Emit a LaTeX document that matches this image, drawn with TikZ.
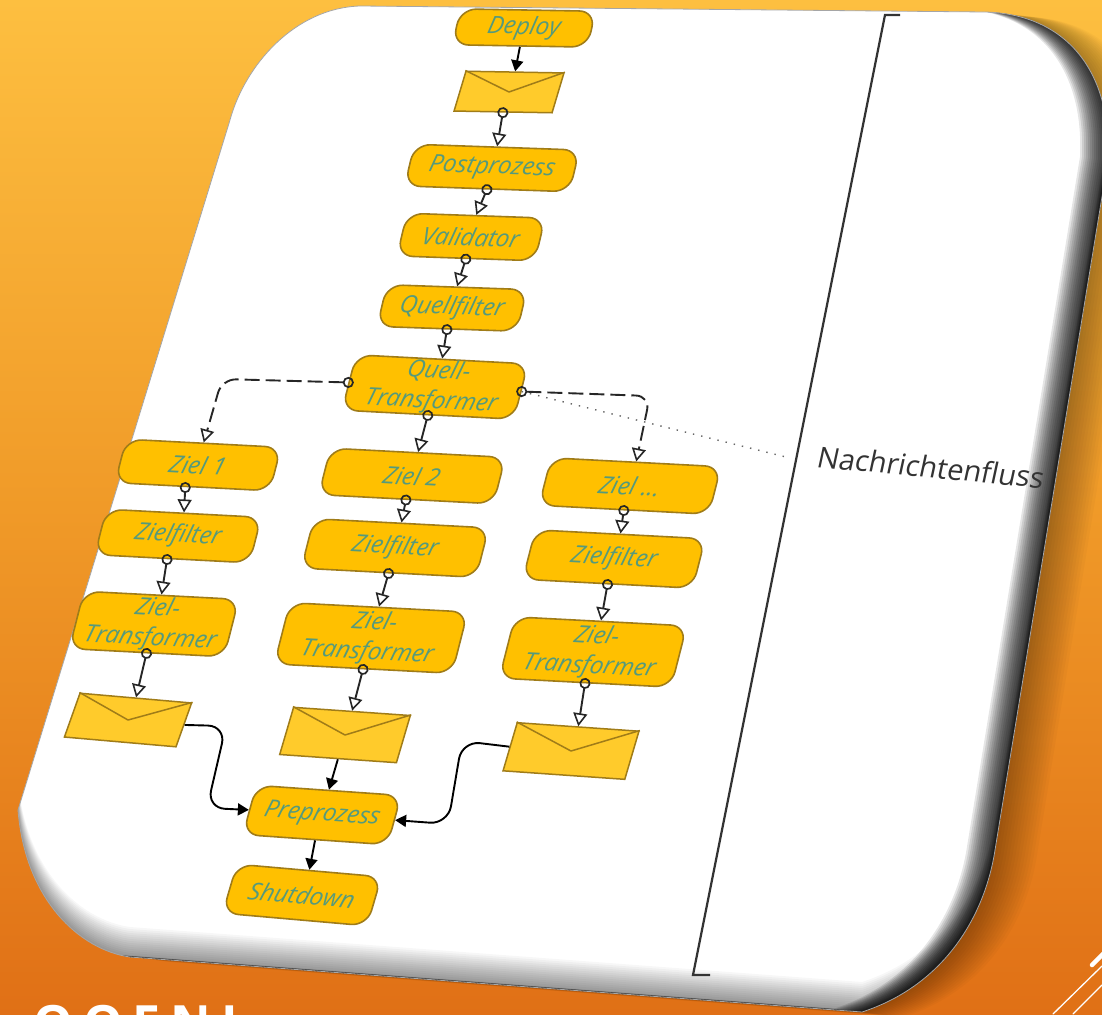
\documentclass[tikz,border=0pt]{standalone}
\usepackage{fontspec}
\setmainfont{Open Sans}
\usetikzlibrary{arrows.meta,calc}
\definecolor{boxfill}{HTML}{FFC000}
\definecolor{boxedge}{HTML}{A07C18}
\definecolor{envfill}{HTML}{FFCB2B}
\definecolor{labelc}{HTML}{559A7C}
\definecolor{bgtop}{HTML}{FDBF40}
\definecolor{bgmid}{HTML}{F09A28}
\definecolor{bgbot}{HTML}{E07016}
\tikzset{
  x=1pt,y=-1pt,
  flowbox/.style={draw=boxedge,line width=1.6pt,fill=boxfill,rounded corners=16pt,inner sep=0pt,align=center,
    text=labelc,font=\fontsize{24}{30}\selectfont\itshape,transform shape},
  envbox/.style={draw=boxedge,line width=1.5pt,fill=envfill,inner sep=0pt,transform shape},
  ctrl/.style={draw=black!85,line width=1.9pt,shorten <=-5.5pt,
    {Circle[open,fill=none,length=11pt,width=11pt,line width=1.7pt]}-{Triangle[open,fill=white,length=13pt,width=14pt,line width=1.6pt]}},
  ctrlb/.style={ctrl,dash pattern=on 15pt off 6pt,rounded corners=14pt},
  solid arrow/.style={draw=black,line width=1.9pt,-{Triangle[length=11pt,width=12pt]}},
  curved arrow/.style={solid arrow,rounded corners=18pt},
  deco/.style={draw=white,line cap=round},
}
\newcommand{\fbx}[7]{\begin{scope}[shift={(#2,#3)},rotate=#6,xslant=.2]
  \node[flowbox,minimum width=#4pt,minimum height=#5pt] (#1) at (0,0) {#7};\end{scope}}
\newcommand{\env}[7]{\begin{scope}[shift={(#2,#3)},rotate=#6,xslant=#7]
  \node[envbox,minimum width=#4pt,minimum height=#5pt] (#1) at (0,0) {};\end{scope}
  \draw[boxedge,line width=1.5pt,line join=round] (#1.north west) -- (#1.center) -- (#1.north east);}
\newcommand{\panelpath}{(360,6) -- (985,12) .. controls (1065,14) and (1112,70) .. (1108,160)
  -- (995,850) .. controls (985,915) and (945,985) .. (862,1012) -- (130,957)
  .. controls (80,950) and (25,900) .. (18,810) -- (230,120) .. controls (245,65) and (295,8) .. (360,6) -- cycle}
\begin{document}
\begin{tikzpicture}
\useasboundingbox (0,0) rectangle (1102,1014);
\shade[top color=bgtop,bottom color=bgbot,middle color=bgmid] (0,0) rectangle (1102,1014);
% bottom-right ornaments
\draw[deco,line width=4.5pt] (1092,965) -- (1110,947);
\draw[deco,line width=1.3pt] (1053,1014) -- (1102,966);
\draw[deco,line width=1.3pt] (1073,1014) -- (1102,985);
% cut title
\begin{scope}
\clip (0,0) rectangle (1102,1014);
\node[anchor=base west,inner sep=0pt,text=white,font=\fontsize{50}{50}\selectfont\bfseries\addfontfeature{LetterSpace=20}] (title) at (33,1041) {OOENI};
\end{scope}
% outer shadow
\foreach \d in {3,6,...,42}
  \fill[black,opacity=.025,shift={(\d,{.12*\d})}] \panelpath;
% panel
\fill[white] \panelpath;
\begin{scope}
\clip \panelpath;
\foreach \d in {2,4,...,28}
  \fill[black,opacity=.1,even odd rule,shift={(-\d,{-.12*\d})}] (-200,-200) rectangle (1400,1300) \panelpath;
\foreach \d in {2,4,...,30}
  \fill[black,opacity=.03,even odd rule,shift={(0,-\d)}] (-200,-200) rectangle (1400,1300) \panelpath;
\end{scope}
\draw[black!35,line width=.8pt] \panelpath;
% flow nodes
\fbx{deploy}{524}{28}{135}{36}{-1}{Deploy}
\env{e0}{509}{92}{98}{40}{-1}{.28}
\fbx{post}{492}{168}{165}{42}{-2}{Postprozess}
\fbx{valid}{471}{237}{138}{43}{-2}{Validator}
\fbx{qf}{452}{308}{140}{42}{-2}{Quellfilter}
\fbx{qt}{435}{387}{172}{56}{-3}{Quell-\\Transformer}
\fbx{z1}{198}{465}{155}{44}{-3}{Ziel 1}
\fbx{z2}{412}{476}{175}{47}{-3}{Ziel 2}
\fbx{z3}{630}{486}{170}{48}{-3}{Ziel ...}
\fbx{f1}{178}{536}{155}{46}{-3}{Zielfilter}
\fbx{f2}{395}{548}{175}{50}{-3}{Zielfilter}
\fbx{f3}{614}{559}{170}{50}{-3}{Zielfilter}
\fbx{t1}{154}{624}{155}{58}{-3}{Ziel-\\Transformer}
\fbx{t2}{371}{638}{178}{62}{-3}{Ziel-\\Transformer}
\fbx{t3}{593}{652}{172}{62}{-3}{Ziel-\\Transformer}
\env{e1}{128}{720}{112}{45}{-5}{.26}
\env{e2}{345}{735}{117}{48}{-4}{.22}
\env{e3}{571}{751}{122}{49}{-4}{.22}
\fbx{pre}{322}{815}{145}{50}{-4}{Preprozess}
\fbx{shut}{302}{895}{145}{50}{-5}{Shutdown}
% side label
\begin{scope}[shift={(931,467)},rotate=-5.4,xslant=.12]
\node[text=black!80,transform shape,font=\fontsize{29}{32}\selectfont] (msg) at (0,0) {Nachrichtenfluss};
\end{scope}
% bracket
\coordinate (b1) at (900,15);\coordinate (b2) at (885,15);\coordinate (b3) at (693,975);\coordinate (b4) at (710,975);
\draw[black!80,line width=2.2pt] (b1) -- (b2) -- (b3) -- (b4);
% connectors
\draw[solid arrow] (deploy.south) -- (e0.north);
\draw[ctrl] (e0.south) -- (post.north);
\draw[ctrl] (post.south) -- (valid.north);
\draw[ctrl] (valid.south) -- (qf.north);
\draw[ctrl] (qf.south) -- (qt.north);
\draw[ctrl] (qt.south) -- (z2.north);
\coordinate (dl) at (222,379);
\coordinate (dr) at (650,396);
\draw[ctrlb] (qt.west) -- (dl) -- (z1.north);
\draw[ctrlb] (qt.east) -- (dr) -- (z3.north);
\coordinate (dotend) at (790,458);
\draw[black!60,line width=1.4pt,dash pattern=on 1.4pt off 7pt] (qt.east) -- (dotend);
\draw[ctrl] ([xshift=-7pt]z1.south) -- (f1.north);
\draw[ctrl] ([xshift=-5pt]f1.south) -- (t1.north);
\draw[ctrl] (t1.south) -- (e1.north);
\draw[ctrl] (z2.south) -- (f2.north);
\draw[ctrl] (f2.south) -- (t2.north);
\draw[ctrl] (t2.south) -- (e2.north);
\draw[ctrl] (z3.south) -- (f3.north);
\draw[ctrl] (f3.south) -- (t3.north);
\draw[ctrl] (t3.south) -- (e3.north);
\draw[solid arrow] (e2.south) -- (pre.north);
\draw[solid arrow] (pre.south) -- (shut.north);
\coordinate (cl1) at (226,726);\coordinate (cl2) at (207,808);
\coordinate (cr1) at (462,741);\coordinate (cr2) at (448,824);
\draw[curved arrow] (e1.east) -- (cl1) -- (cl2) -- (pre.west);
\draw[curved arrow] (e3.west) -- (cr1) -- (cr2) -- (pre.east);
\end{tikzpicture}
\end{document}
